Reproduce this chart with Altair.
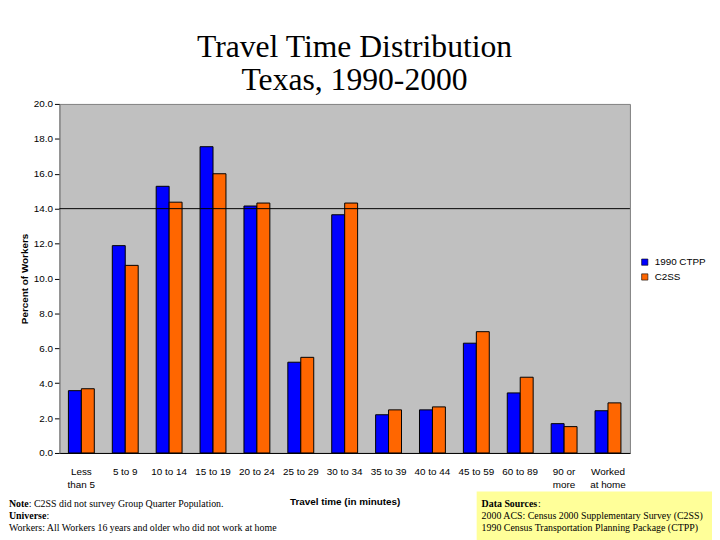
import altair as alt
import pandas as pd

categories = ["Less than 5", "5 to 9", "10 to 14", "15 to 19", "20 to 24", "25 to 29",
              "30 to 34", "35 to 39", "40 to 44", "45 to 59", "60 to 89", "90 or more",
              "Worked at home"]
ctpp_1990 = [3.57, 11.88, 15.28, 17.55, 14.15, 5.20, 13.65, 2.19, 2.47, 6.29, 3.44, 1.68, 2.42]
c2ss_2000 = [3.68, 10.75, 14.37, 16.00, 14.32, 5.48, 14.32, 2.47, 2.64, 6.95, 4.34, 1.51, 2.87]
series = ["1990 CTPP", "C2SS"]
colors = ["#0000FF", "#FF6600"]
y_ticks = [0, 2, 4, 6, 8, 10, 12, 14, 16, 18, 20]
ref_line = [14.0]

rows = []
for i, c in enumerate(categories):
    rows.append({"cat": c, "series": series[0], "val": ctpp_1990[i]})
    rows.append({"cat": c, "series": series[1], "val": c2ss_2000[i]})
df = pd.DataFrame(rows)

W, H = 577, 353
SANS = "Liberation Sans"
SERIF = "Liberation Serif"

label_expr = ("datum.value == 'Less than 5' ? ['Less', 'than 5'] : "
              "datum.value == '90 or more' ? ['90 or', 'more'] : "
              "datum.value == 'Worked at home' ? ['Worked', 'at home'] : datum.value")

y_scale = alt.Scale(domain=[0, 20], nice=False)
y_axis = alt.Axis(title="Percent of Workers", values=y_ticks, format=".1f", tickCount=11,
                  grid=False, labelOverlap=False, labelFont=SANS, labelFontSize=10,
                  labelColor="black", tickColor="black", tickSize=5, labelPadding=2,
                  domainColor="#808080", titleFont=SANS, titleFontSize=10,
                  titleFontWeight="bold", titleColor="black", titlePadding=4)

bars = alt.Chart(df).mark_bar(stroke="black", strokeWidth=1).encode(
    x=alt.X("cat:N", sort=categories,
            scale=alt.Scale(paddingInner=0.41, paddingOuter=0.205),
            axis=alt.Axis(title="Travel time (in minutes)", labelAngle=0, labelExpr=label_expr,
                          labelFont=SANS, labelFontSize=10, labelColor="black",
                          labelLineHeight=13, labelPadding=14, ticks=False,
                          domainColor="black", titleFont=SANS, titleFontSize=10,
                          titleFontWeight="bold", titleColor="black", titlePadding=7)),
    xOffset=alt.XOffset("series:N", sort=series),
    y=alt.Y("val:Q", scale=y_scale, axis=y_axis),
    color=alt.Color("series:N", sort=series, scale=alt.Scale(domain=series, range=colors),
                    legend=alt.Legend(title=None, orient="none", legendX=587, legendY=155,
                                      symbolType="square", symbolSize=40,
                                      symbolStrokeColor="black", symbolStrokeWidth=0.6,
                                      labelFont=SANS, labelFontSize=10, labelColor="black",
                                      rowPadding=5, labelOffset=5)),
)

rule = alt.Chart(pd.DataFrame({"val": ref_line})).mark_rule(color="black", strokeWidth=1).encode(
    y=alt.Y("val:Q", scale=y_scale, axis=y_axis)
)

box = alt.Chart(pd.DataFrame({"a": [0]})).mark_rect(color="#FFFF99").encode(
    x=alt.value(422), x2=alt.value(680), y=alt.value(392), y2=alt.value(460)
)

def txt(s, x, y, font=SERIF, bold=False):
    return alt.Chart(pd.DataFrame({"t": [s]})).mark_text(
        align="left", baseline="alphabetic", font=font, fontSize=10,
        fontWeight="bold" if bold else "normal", color="black"
    ).encode(text="t:N", x=alt.value(x), y=alt.value(y))

notes = [
    txt("Note", -51, 408, bold=True),
    txt(": C2SS did not survey Group Quarter Population.", -31, 408),
    txt("Universe", -51, 420, bold=True),
    txt(":", -13, 420),
    txt("Workers: All Workers 16 years and older who did not work at home", -51, 432),
    txt("Data Sources", 427, 408, bold=True),
    txt(":", 484, 408),
    txt("2000 ACS: Census 2000 Supplementary Survey (C2SS)", 427, 420),
    txt("1990 Census Transportation Planning Package (CTPP)", 427, 432),
]

chart = alt.layer(bars, rule, box, *notes).properties(
    width=W, height=H,
    title=alt.Title(["Travel Time Distribution", "Texas, 1990-2000"], font=SERIF, fontSize=32,
                    fontWeight="normal", lineHeight=33, color="black", anchor="middle",
                    dx=10, offset=2),
    autosize=alt.AutoSizeParams(type="none"),
    padding={"left": 52, "top": 94, "right": 83, "bottom": 85},
    background="white",
).configure_view(fill="#C0C0C0", stroke="#808080", strokeWidth=1)

chart.save("out.html", embed_options={"renderer": "svg", "actions": False})
